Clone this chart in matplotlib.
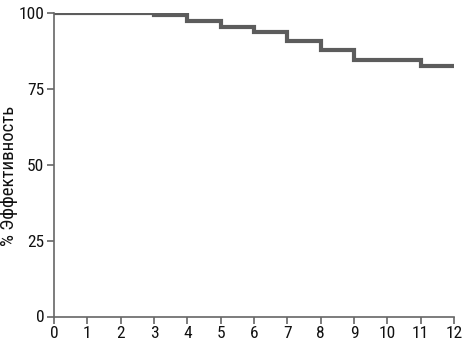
import matplotlib
matplotlib.use('Agg')
import matplotlib.pyplot as plt

# step curve
months = [0, 1, 2, 3, 4, 5, 6, 7, 8, 9, 10, 11, 12]
efficacy = [100, 100, 100, 99.2, 97.2, 95.4, 93.8, 90.8, 87.8, 84.5, 84.5, 82.7, 82.7]
yticks = [0, 25, 50, 75, 100]

plt.rcParams['font.family'] = ['Roboto Condensed', 'PT Sans Narrow', 'DejaVu Sans']

fig = plt.figure(figsize=(4.62, 3.42), dpi=100)
ax = fig.add_axes([54 / 462, (342 - 316.5) / 342, 400 / 462, 303.5 / 342])

ax.step(months, efficacy, where='post', color='#5c5c5c', linewidth=3, solid_joinstyle='miter')

ax.set_xlim(0, 12)
ax.set_ylim(0, 100)
ax.set_xticks(months)
ax.set_yticks(yticks)
ax.spines['top'].set_visible(False)
ax.spines['right'].set_visible(False)
for s in ('left', 'bottom'):
    ax.spines[s].set_color('#666666')
    ax.spines[s].set_linewidth(1.2)
ax.tick_params(direction='out', length=5, width=1.2, color='#666666', labelsize=12.5, pad=2, labelcolor='#111111')

fig.text(9 / 462, 1 - 176 / 342, '% Эффективность', rotation=90, ha='center', va='center',
         fontsize=13.5, color='#111111')

fig.savefig('out.png', dpi=100)
